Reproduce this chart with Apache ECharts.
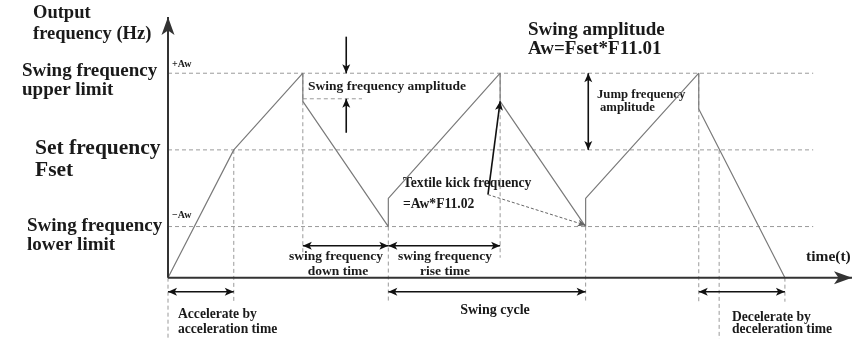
<!DOCTYPE html>
<html>
<head>
<meta charset="utf-8">
<script src="https://cdn.jsdelivr.net/npm/echarts@6/dist/echarts.min.js"></script>
<style>
  html, body { margin: 0; padding: 0; background: #fff; }
  #chart { width: 867px; height: 339px; }
</style>
</head>
<body>
<div id="chart"></div>
<script>
// Swing-frequency (traverse) operation of the drive: output frequency vs. time.

// Axis ranges (time in arbitrary units, frequency in % of scale)
const timeMax = 104;
const freqMin = -24;
const freqMax = 102;

// Frequency levels: swing upper limit, set frequency Fset, swing lower limit
const levelFreq = [80, 50, 20];
const levelEnd = 98.1;

// Output frequency waveform (repeated times are the textile kick jumps)
const waveTime = [0, 10, 20.5, 20.5, 33.5, 33.5, 50.5, 50.5, 63.5, 63.5, 80.7, 80.7, 93.8];
const waveFreq = [0, 50, 80, 69, 20, 31, 80, 69, 20, 31, 80, 66, 0];

// Vertical guide lines: time, top and bottom frequency
const guideTime   = [0, 10, 20.5, 33.5, 50.5, 63.5, 80.7, 83.8, 93.8];
const guideTop    = [0, 50, 80, 20, 80, 20, 80, 50, 0];
const guideBottom = [-24, -9.4, 7.8, -9.4, 7.8, -9.4, -9.4, -24, -9.4];

// Short dashed marker of the kick level after the first peak
const kickMark = [20.5, 70, 29.5, 70];

// Time spans marked with double arrows: start, end, level
const spanStart = [20.5, 33.5, 0, 33.5, 80.7];
const spanEnd   = [33.5, 50.5, 10, 63.5, 93.8];
const spanLevel = [12.5, 12.5, -5.5, -5.5, -5.5];

// Pointer arrows: from (x1,y1) to (x2,y2), heads: 1 = at end, 2 = both ends
const pointerArrows = [
  [63.9, 80, 63.9, 50, 2],     // jump frequency amplitude
  [27.1, 94.3, 27.1, 80, 1],   // swing frequency amplitude, from above
  [27.1, 56.7, 27.1, 70, 1],   // swing frequency amplitude, from below
  [48.65, 32.5, 50.5, 69, 1]   // textile kick at the peak
];
const dashedPointers = [
  [48.65, 32.5, 63.5, 20.5, 1] // textile kick at the valley
];

// Axes drawn as arrows from the origin
const axisArrows = [
  [0, 0, 0, freqMax, 1],
  [0, 0, timeMax, 0, 1]
];

const levelLines = levelFreq.map(f => [0, f, levelEnd, f, 0]);
const guideLines = guideTime.map((t, i) => [t, guideTop[i], t, guideBottom[i], 0]);
guideLines.push([kickMark[0], kickMark[1], kickMark[2], kickMark[3], 0]);
const spanArrows = spanStart.map((s, i) => [s, spanLevel[i], spanEnd[i], spanLevel[i], 2]);

function arrowRenderer(opts) {
  return function (params, api) {
    const p1 = api.coord([api.value(0), api.value(1)]);
    const p2 = api.coord([api.value(2), api.value(3)]);
    const heads = api.value(4);
    const children = [];
    function head(tip, from) {
      const dx = tip[0] - from[0], dy = tip[1] - from[1];
      const len = Math.hypot(dx, dy) || 1;
      const ux = dx / len, uy = dy / len;
      const bx = tip[0] - ux * opts.headLen, by = tip[1] - uy * opts.headLen;
      const nx = tip[0] - ux * opts.headLen * 0.75, ny = tip[1] - uy * opts.headLen * 0.75;
      return {
        type: 'polygon',
        shape: { points: [tip, [bx - uy * opts.headHalf, by + ux * opts.headHalf], [nx, ny], [bx + uy * opts.headHalf, by - ux * opts.headHalf]] },
        style: { fill: opts.color, stroke: null }
      };
    }
    children.push({
      type: 'line',
      shape: { x1: p1[0], y1: p1[1], x2: p2[0], y2: p2[1] },
      style: { stroke: opts.color, lineWidth: opts.width, lineDash: opts.dash || null }
    });
    if (heads >= 1) children.push(head(p2, p1));
    if (heads >= 2) children.push(head(p1, p2));
    return { type: 'group', children: children };
  };
}

function arrowSeries(data, opts) {
  return {
    type: 'custom',
    data: data,
    clip: false,
    silent: true,
    encode: { x: [0, 2], y: [1, 3] },
    renderItem: arrowRenderer(opts),
    z: opts.z || 2
  };
}

const serif = '"Liberation Serif", "Times New Roman", serif';
function ctxt(text, cx, y, size) {
  return {
    type: 'text', x: cx, y: y,
    style: { text: text, font: 'bold ' + size + 'px ' + serif, fill: '#1a1a1a', align: 'center', verticalAlign: 'middle' }
  };
}
function ltxt(text, x, y, size) {
  return {
    type: 'text', x: x, y: y,
    style: { text: text, font: 'bold ' + size + 'px ' + serif, fill: '#1a1a1a', align: 'left', verticalAlign: 'middle' }
  };
}

const chart = echarts.init(document.getElementById('chart'), null, { renderer: 'canvas' });
chart.setOption({
  animation: false,
  backgroundColor: '#ffffff',
  grid: { left: 168, right: 15, top: 17, bottom: 0 },
  xAxis: { type: 'value', min: 0, max: timeMax, show: false },
  yAxis: { type: 'value', min: freqMin, max: freqMax, show: false },
  series: [
    arrowSeries(levelLines, { color: '#9a9a9a', width: 1, dash: [4, 3], headLen: 0, headHalf: 0, z: 1 }),
    arrowSeries(guideLines, { color: '#9a9a9a', width: 1, dash: [4, 3], headLen: 0, headHalf: 0, z: 1 }),
    {
      type: 'line',
      data: waveTime.map((t, i) => [t, waveFreq[i]]),
      symbol: 'none',
      silent: true,
      lineStyle: { color: '#7a7a7a', width: 1.2 },
      z: 3
    },
    arrowSeries(spanArrows, { color: '#111', width: 1.6, headLen: 9, headHalf: 4, z: 4 }),
    arrowSeries(pointerArrows, { color: '#111', width: 1.6, headLen: 9, headHalf: 4, z: 4 }),
    arrowSeries(dashedPointers, { color: '#666', width: 1, dash: [3, 2], headLen: 8, headHalf: 3.5, z: 4 }),
    arrowSeries(axisArrows, { color: '#333', width: 2, headLen: 18, headHalf: 6.5, z: 5 })
  ],
  graphic: [
    ltxt('Output', 33, 13, 18.5),
    ltxt('frequency (Hz)', 33, 34, 18.5),
    ltxt('Swing frequency', 22, 71, 19),
    ltxt('upper limit', 22, 90, 19),
    ltxt('Set frequency', 35, 148, 21.5),
    ltxt('Fset', 35, 170, 21.5),
    ltxt('Swing frequency', 27, 226, 19),
    ltxt('lower limit', 27, 245, 19),
    ltxt('+Aw', 172, 64, 10),
    ltxt('\u2212Aw', 172, 215, 10),
    ltxt('Swing amplitude', 528, 30, 19),
    ltxt('Aw=Fset*F11.01', 528, 49, 19),
    ltxt('Swing frequency amplitude', 308, 87, 13.5),
    ltxt('Jump frequency', 597, 95, 12.7),
    ltxt('amplitude', 600, 108, 12.7),
    ltxt('Textile kick frequency', 403, 183, 13.6),
    ltxt('=Aw*F11.02', 403, 204, 13.6),
    ctxt('swing frequency', 336, 257, 13.5),
    ctxt('down time', 338, 272, 13.5),
    ctxt('swing frequency', 445, 257, 13.5),
    ctxt('rise time', 445, 272, 13.5),
    ctxt('Swing cycle', 495, 310, 14),
    ltxt('Accelerate by', 178, 314, 13.6),
    ltxt('acceleration time', 178, 329, 13.6),
    ltxt('Decelerate by', 732, 317, 13.6),
    ltxt('deceleration time', 732, 329, 13.6),
    ltxt('time(t)', 806, 257, 15.5)
  ]
});
</script>
</body>
</html>
